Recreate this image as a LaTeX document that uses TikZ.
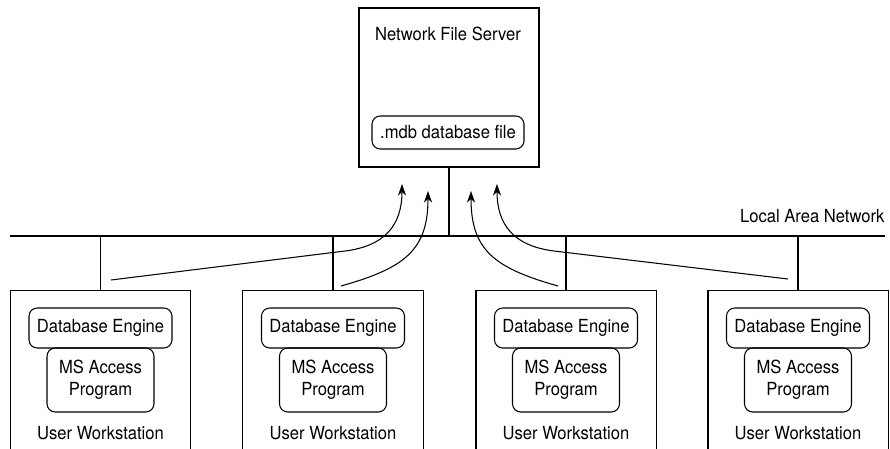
\documentclass[tikz,border=0pt]{standalone}
\usepackage{fontspec}
\setmainfont[FakeStretch=0.92]{TeX Gyre Heros}
\usetikzlibrary{arrows.meta}

\begin{document}
\begin{tikzpicture}[x=.03cm,y=-.03cm,>={Stealth[length=10pt,width=7pt]},line width=.9pt,
 font=\fontsize{15.4}{18.5}\selectfont,
 box/.style={draw,rounded corners=7pt,inner sep=0pt,align=center},
 txt/.style={inner sep=0pt,align=center}]
\useasboundingbox (0,0) rectangle (890,449);
% file server
\node[draw,minimum width=5.4cm,minimum height=4.77cm,inner sep=0pt] (srv) at (449,87.5) {};
\node[txt] (srvname) at (448,34) {Network File Server};
\node[box,minimum width=4.56cm,minimum height=.99cm] (mdb) at (448,132.5) {.mdb database file};
% local area network
\coordinate (lanL) at (10,236);
\coordinate (lanR) at (885,236);
\draw (lanL) -- (lanR);
\node[txt,anchor=east] (lan) at (885,216) {Local Area Network};
\draw (srv.south) -- (srv.south |- lanL);
% workstations
\foreach \i/\cx in {1/100.5,2/333,3/566,4/798}{
 \node[minimum width=5.37cm,minimum height=4.74cm,inner sep=0pt] (ws\i) at (\cx,370) {};
 \draw (ws\i.south west) -- (ws\i.north west) -- (ws\i.north east) -- (ws\i.south east);
 \draw (ws\i.north) -- (ws\i.north |- lanL);
 \node[box,minimum width=4.29cm,minimum height=1.2cm] (eng\i) at (\cx,328) {Database Engine};
 \node[box,minimum width=3.21cm,minimum height=1.92cm] (prog\i) at (\cx,380) {MS Access\\Program};
 \node[txt] (user\i) at (\cx,433) {User Workstation};
}
% data requests
\coordinate (s1) at (111,280); \coordinate (t1) at (402,184);
\coordinate (s2) at (341,286); \coordinate (t2) at (428,191);
\coordinate (s3) at (558,286); \coordinate (t3) at (471,191);
\coordinate (s4) at (788,279); \coordinate (t4) at (497,184);
\draw[->] (s1) -- (345,251) .. controls (385,246) and (402,225) .. (t1);
\draw[->] (s2) .. controls (405,268) and (428,250) .. (t2);
\draw[->] (s3) .. controls (494,268) and (471,250) .. (t3);
\draw[->] (s4) -- (554,251) .. controls (514,246) and (497,225) .. (t4);
\end{tikzpicture}
\end{document}
